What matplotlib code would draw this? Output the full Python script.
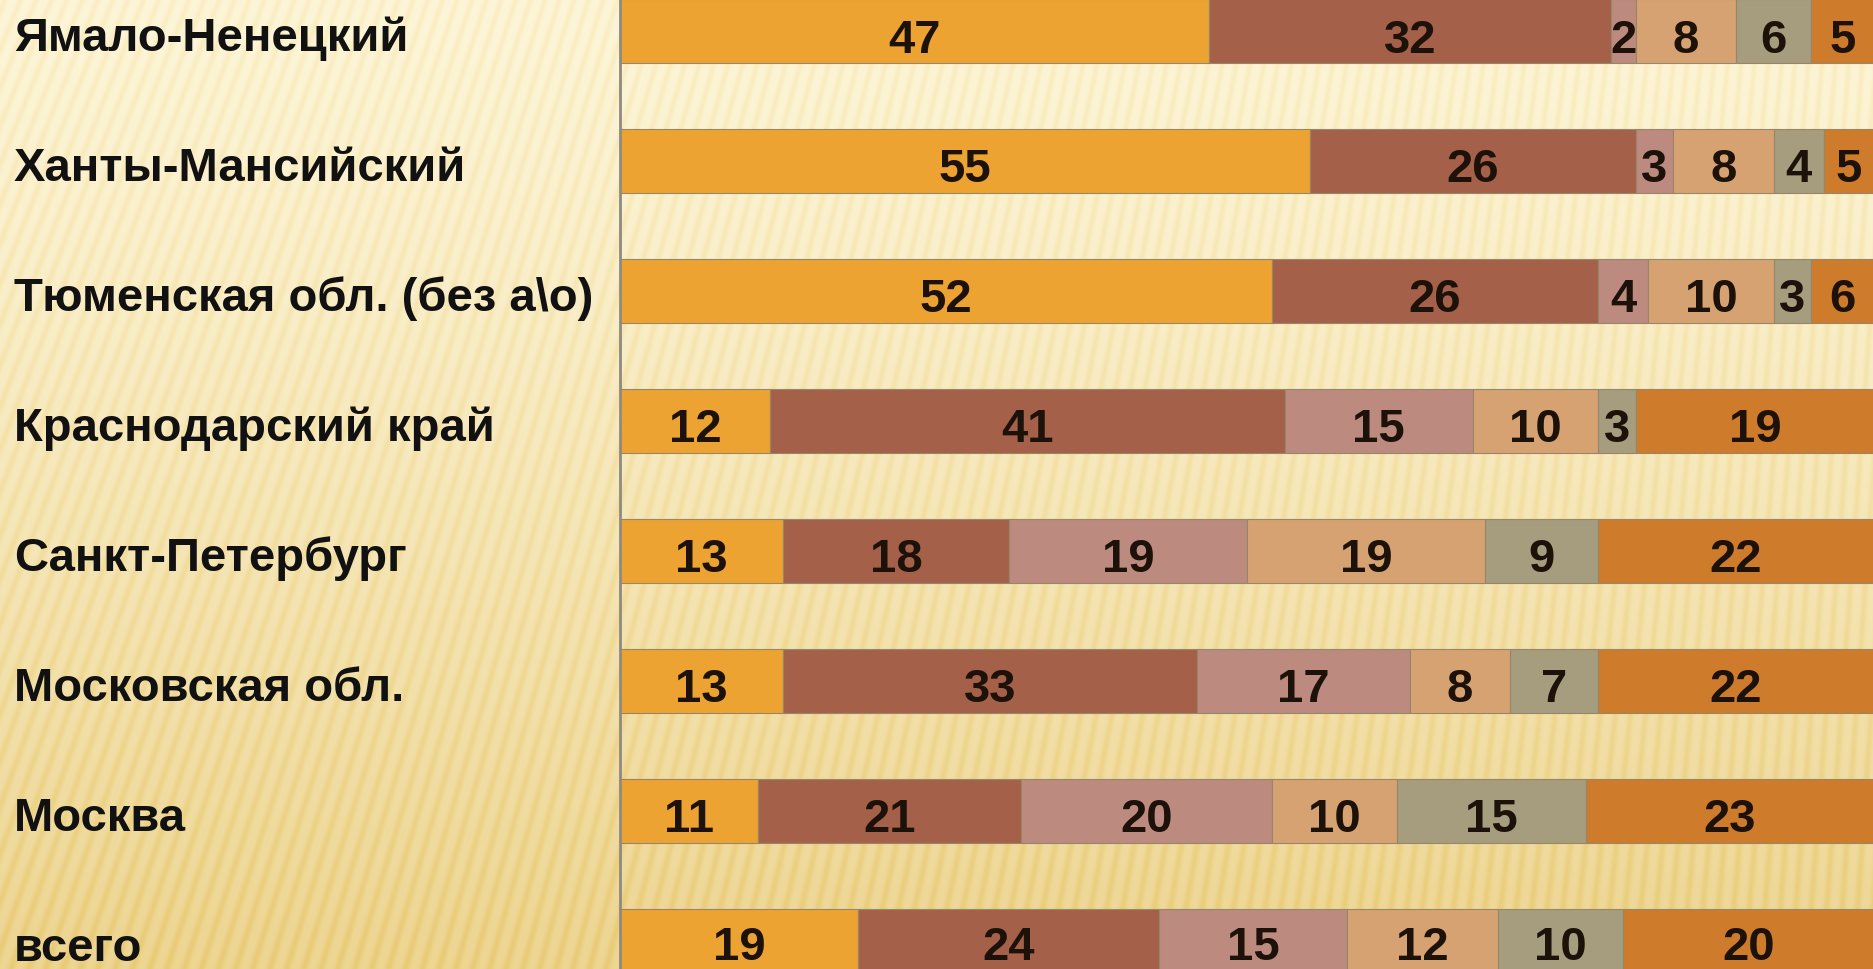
import numpy as np
import matplotlib.pyplot as plt

plt.rcParams['font.family'] = ['Liberation Sans', 'DejaVu Sans']

regions = ['Ямало-Ненецкий', 'Ханты-Мансийский', 'Тюменская обл. (без а\\о)',
           'Краснодарский край', 'Санкт-Петербург', 'Московская обл.',
           'Москва', 'всего']
share_1 = [47, 55, 52, 12, 13, 13, 11, 19]
share_2 = [32, 26, 26, 41, 18, 33, 21, 24]
share_3 = [2, 3, 4, 15, 19, 17, 20, 15]
share_4 = [8, 8, 10, 10, 19, 8, 10, 12]
share_5 = [6, 4, 3, 3, 9, 7, 15, 10]
share_6 = [5, 5, 6, 19, 22, 22, 23, 20]

series = [share_1, share_2, share_3, share_4, share_5, share_6]
colors = ['#eda332', '#a5604a', '#bd8a80', '#d6a272', '#a69c7e', '#cf7b2c']

W, H = 1874, 969


def paper_texture():
    yy, xx = np.mgrid[0:H, 0:W].astype(float)
    # fan of thin stripes converging far above the right side
    cx, cy = 2300.0, -5500.0
    ang = np.arctan2(xx - cx, yy - cy)
    s = 0.5 + 0.5 * np.sin(ang / 0.0024 * 2 * np.pi)
    s = s ** 2
    t = np.clip(yy / H, 0, 1) ** 1.3
    light = np.array([253, 245, 216]) / 255.0
    dark = np.array([237, 213, 146]) / 255.0
    base = light[None, None, :] * (1 - t[..., None]) + dark[None, None, :] * t[..., None]
    shade = np.array([0.03, 0.07, 0.20])
    img = base - (0.6 + 0.2 * t[..., None]) * s[..., None] * shade[None, None, :] * 0.7
    return np.clip(img, 0, 1)


fig = plt.figure(figsize=(W / 100, H / 100), dpi=100)
bg = fig.add_axes([0, 0, 1, 1], zorder=0)
bg.imshow(paper_texture(), aspect='auto', interpolation='bilinear')
bg.axis('off')

left = 620 / W
ax = fig.add_axes([left, 0, 1 - left, 1], zorder=1)
ax.patch.set_alpha(0)

y = np.arange(len(regions))
start = np.zeros(len(regions))
for vals, col in zip(series, colors):
    bars = ax.barh(y, vals, left=start, height=0.49, color=col,
                   edgecolor='#958768', linewidth=0.8)
    labels = ax.bar_label(bars, labels=[str(v) for v in vals], label_type='center',
                          fontsize=34, fontweight='bold', color='#1c120a')
    for lab in labels:
        lab.set_va('center_baseline')
        lab.xyann = (0, -3)
    start += np.array(vals)

ax.set_xlim(0, 100)
ax.set_ylim(7.215, -0.24)
ax.set_xticks([])
ax.set_yticks([])
for side in ['top', 'right', 'bottom']:
    ax.spines[side].set_visible(False)
ax.spines['left'].set_color('#8f8a80')
ax.spines['left'].set_linewidth(2)

for i, name in enumerate(regions):
    fig.text(14 / W, 1 - (31 + 130 * i + 8) / H, name, fontsize=34,
             fontweight='bold', color='#111111', ha='left', va='center')

fig.savefig('out.png', dpi=100)
